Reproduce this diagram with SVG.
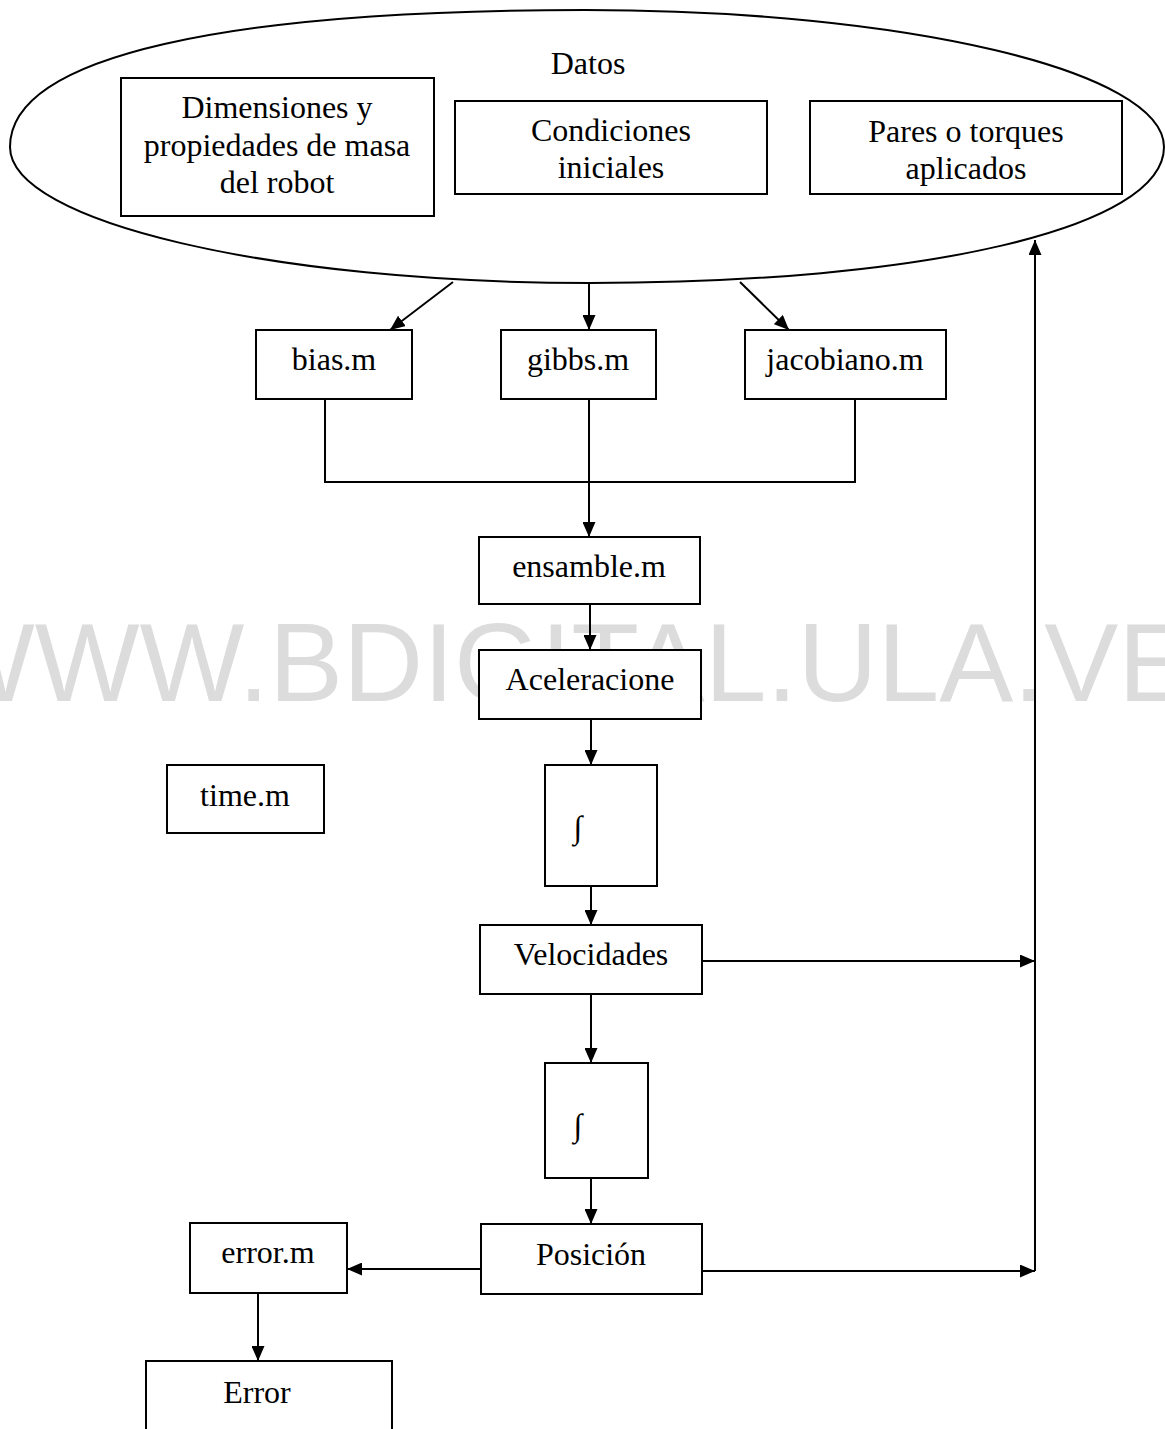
<svg xmlns="http://www.w3.org/2000/svg" width="1165" height="1429" viewBox="0 0 1165 1429">
<defs>
<style>
.bx{fill:#fff;stroke:#000;stroke-width:2}
.t{font-family:"Liberation Serif","Times New Roman",serif;font-size:32px;fill:#000;text-anchor:middle}
.ln{fill:none;stroke:#000;stroke-width:2}
.wm{font-family:"Liberation Sans",Arial,sans-serif;font-size:111px;fill:#dcdcdc}
</style>
<marker id="ah" viewBox="0 0 15 13" refX="15" refY="6.5" markerWidth="15" markerHeight="13" markerUnits="userSpaceOnUse" orient="auto">
<path d="M0,0 L15,6.5 L0,13 Z" fill="#000"/>
</marker>
</defs>
<rect width="1165" height="1429" fill="#fff"/>
<text class="wm" x="-70" y="701">WWW.BDIGITAL.ULA.VE</text>
<g id="datos">
<path d="M10,147 C10,55 230,10 585,10 C905,10 1164,71 1164,147 C1164,228 925,283 590,283 C273,283 10,222 10,147 Z" fill="none" stroke="#000" stroke-width="2"/>
<text class="t" x="588" y="74">Datos</text>
</g>
<g id="dimensiones">
<rect class="bx" x="121" y="78" width="313" height="138"/>
<text class="t" x="277" y="118">Dimensiones y</text>
<text class="t" x="277" y="156">propiedades de masa</text>
<text class="t" x="277" y="193">del robot</text>
</g>
<g id="condiciones">
<rect class="bx" x="455" y="101" width="312" height="93"/>
<text class="t" x="611" y="141">Condiciones</text>
<text class="t" x="611" y="178">iniciales</text>
</g>
<g id="pares">
<rect class="bx" x="810" y="101" width="312" height="93"/>
<text class="t" x="966" y="142">Pares o torques</text>
<text class="t" x="966" y="179">aplicados</text>
</g>
<g id="bias">
<rect class="bx" x="256" y="330" width="156" height="69"/>
<text class="t" x="334" y="370">bias.m</text>
</g>
<g id="gibbs">
<rect class="bx" x="501" y="330" width="155" height="69"/>
<text class="t" x="578" y="370">gibbs.m</text>
</g>
<g id="jacobiano">
<rect class="bx" x="745" y="330" width="201" height="69"/>
<text class="t" x="845" y="370">jacobiano.m</text>
</g>
<g id="ensamble">
<rect class="bx" x="479" y="537" width="221" height="67"/>
<text class="t" x="589" y="577">ensamble.m</text>
</g>
<g id="aceleraciones">
<rect class="bx" x="479" y="650" width="222" height="69"/>
<text class="t" x="590" y="690">Aceleracione</text>
</g>
<g id="time">
<rect class="bx" x="167" y="765" width="157" height="68"/>
<text class="t" x="245" y="806">time.m</text>
</g>
<g id="integral1">
<rect class="bx" x="545" y="765" width="112" height="121"/>
<text class="t" x="578" y="838">∫</text>
</g>
<g id="velocidades">
<rect class="bx" x="480" y="925" width="222" height="69"/>
<text class="t" x="591" y="965">Velocidades</text>
</g>
<g id="integral2">
<rect class="bx" x="545" y="1063" width="103" height="115"/>
<text class="t" x="578" y="1136">∫</text>
</g>
<g id="posicion">
<rect class="bx" x="481" y="1224" width="221" height="70"/>
<text class="t" x="591" y="1265">Posición</text>
</g>
<g id="errorm">
<rect class="bx" x="190" y="1223" width="157" height="70"/>
<text class="t" x="268" y="1263">error.m</text>
</g>
<g id="error">
<rect class="bx" x="146" y="1361" width="246" height="90"/>
<text class="t" x="257" y="1403">Error</text>
</g>
<g id="connectors">
<line class="ln" x1="453" y1="282" x2="390" y2="330" marker-end="url(#ah)"/>
<line class="ln" x1="589" y1="283" x2="589" y2="330" marker-end="url(#ah)"/>
<line class="ln" x1="740" y1="282" x2="789" y2="330" marker-end="url(#ah)"/>
<polyline class="ln" points="325,399 325,482 855,482 855,399"/>
<line class="ln" x1="589" y1="399" x2="589" y2="537" marker-end="url(#ah)"/>
<line class="ln" x1="590" y1="604" x2="590" y2="650" marker-end="url(#ah)"/>
<line class="ln" x1="591" y1="719" x2="591" y2="765" marker-end="url(#ah)"/>
<line class="ln" x1="591" y1="886" x2="591" y2="925" marker-end="url(#ah)"/>
<line class="ln" x1="591" y1="994" x2="591" y2="1063" marker-end="url(#ah)"/>
<line class="ln" x1="591" y1="1178" x2="591" y2="1224" marker-end="url(#ah)"/>
<line class="ln" x1="702" y1="961" x2="1035" y2="961" marker-end="url(#ah)"/>
<line class="ln" x1="702" y1="1271" x2="1035" y2="1271" marker-end="url(#ah)"/>
<line class="ln" x1="1035" y1="1271" x2="1035" y2="240" marker-end="url(#ah)"/>
<line class="ln" x1="481" y1="1269" x2="347" y2="1269" marker-end="url(#ah)"/>
<line class="ln" x1="258" y1="1293" x2="258" y2="1361" marker-end="url(#ah)"/>
</g>
</svg>
